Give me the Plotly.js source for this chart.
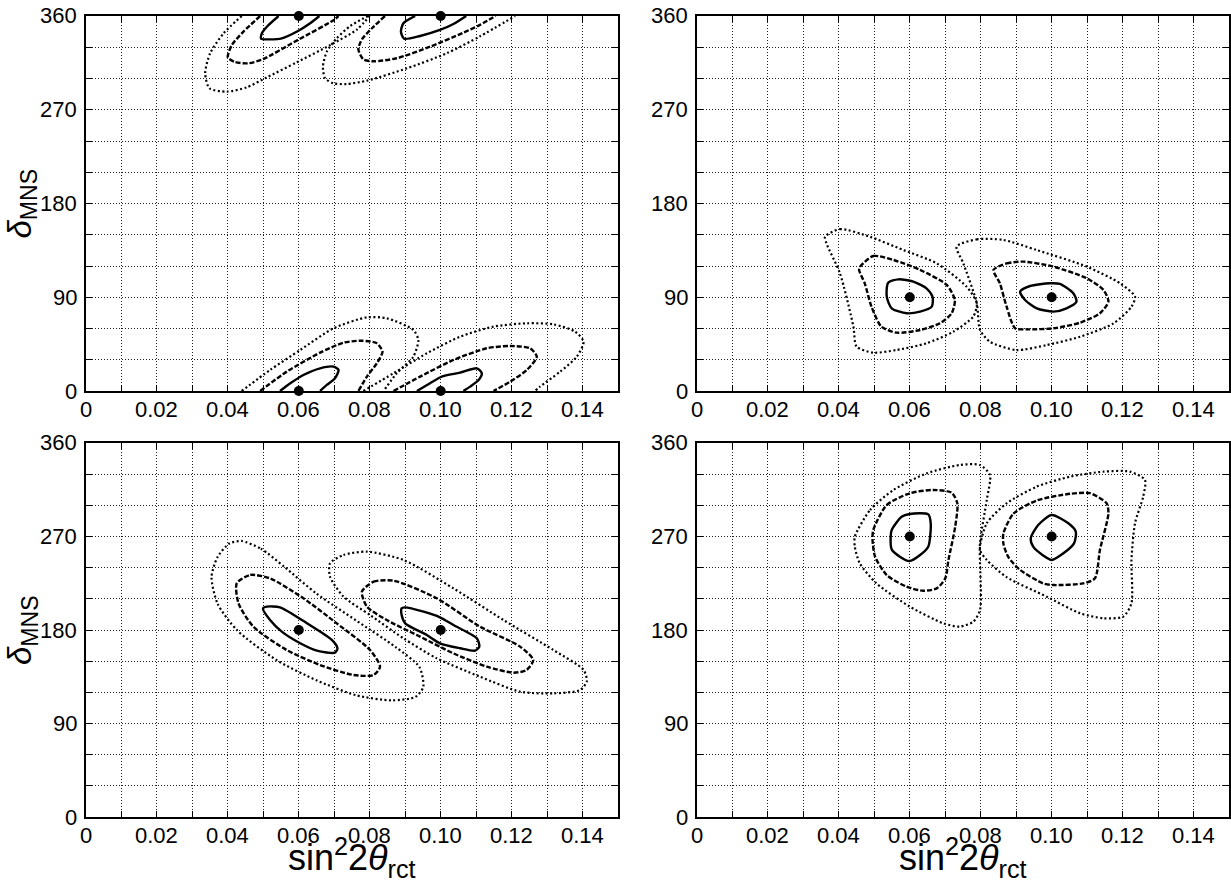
<!DOCTYPE html>
<html>
<head>
<meta charset="utf-8">
<script src="https://cdn.plot.ly/plotly-3.0.1.min.js"></script>
<style>html,body{margin:0;padding:0;background:#fff;}#chart{width:1231px;height:882px;}</style>
</head>
<body>
<div id="chart"></div>
<script>
// ---------------- data ----------------
const xTickVals = [0, 0.02, 0.04, 0.06, 0.08, 0.10, 0.12, 0.14];
const xTickText = ['0', '0.02', '0.04', '0.06', '0.08', '0.10', '0.12', '0.14'];
const xMinorVals = [0.01, 0.03, 0.05, 0.07, 0.09, 0.11, 0.13];
const yTickVals = [0, 90, 180, 270, 360];
const yTickText = ['0', '90', '180', '270', '360'];
const yMinorVals = [30, 60, 120, 150, 210, 240, 300, 330];

// best-fit points (sin^2 2theta, delta)
const bestX = [0.06, 0.10];
const bestY_TL_top = [360, 360];
const bestY_TL_bot = [0, 0];
const bestY_TR = [90, 90];
const bestY_BL = [180, 180];
const bestY_BR = [270, 270];

// top-left panel (true delta = 0/360): contours cut by the frame (open curves)
const tl_a06_solid = [[0.0543,360],[0.0512,350.4],[0.0496,343.4],[0.0494,338.2],[0.0519,337.6],[0.0552,338.6],[0.0599,345.9],[0.0630,352.5],[0.0658,360]];
const tl_a06_dash  = [[0.0491,360],[0.0444,345],[0.0411,332],[0.0400,320.3],[0.0420,315.8],[0.0458,314.6],[0.0498,318.4],[0.0600,337.5],[0.0698,356],[0.0712,360]];
const tl_a06_dot   = [[0.0439,360],[0.0388,343.4],[0.0350,324.2],[0.0336,305],[0.0348,290.6],[0.0397,287.4],[0.0453,291.5],[0.0510,301.1],[0.0594,315.5],[0.0688,332],[0.0764,347],[0.0800,360]];
const tl_a10_solid = [[0.0928,360],[0.0895,353],[0.0888,345],[0.0897,338.2],[0.0942,340.8],[0.0998,346.6],[0.1036,352.3],[0.1072,360]];
const tl_a10_dash  = [[0.0843,360],[0.0811,349.8],[0.0778,337.6],[0.0768,328],[0.0782,318.4],[0.0811,316.5],[0.0876,319.4],[0.0970,330.5],[0.1064,344],[0.1111,351.5],[0.1155,360]];
const tl_a10_dot   = [[0.0795,360],[0.0745,350.4],[0.0707,338.6],[0.0679,325.8],[0.0668,311.4],[0.0674,300.2],[0.0698,295.4],[0.0735,294.7],[0.0792,297.9],[0.0905,309.8],[0.1017,324.2],[0.1111,340.5],[0.1210,360]];
const tl_b06_solid = [[0.0547,0],[0.0576,7.4],[0.0613,15.4],[0.0660,21.8],[0.0698,23.4],[0.0712,20.2],[0.0702,12.2],[0.0679,5.8],[0.0660,0]];
const tl_b06_dash  = [[0.0491,0],[0.0566,18.6],[0.0660,36.8],[0.0726,46.4],[0.0778,48.3],[0.0820,45.8],[0.0836,37.8],[0.0820,26.6],[0.0792,13.8],[0.0768,0]];
const tl_b06_dot   = [[0.0439,0],[0.0519,20.2],[0.0604,39.4],[0.0698,60.2],[0.0792,70.7],[0.0848,69.8],[0.0923,58.6],[0.0937,48.9],[0.0923,33],[0.0876,17],[0.0839,0]];
const tl_b10_solid = [[0.0933,0],[0.0970,7.4],[0.1003,13.8],[0.1055,17.6],[0.1102,21.8],[0.1116,17],[0.1107,10.6],[0.1083,4.2],[0.1064,0]];
const tl_b10_dash  = [[0.0867,0],[0.0942,13.8],[0.1036,29.8],[0.1130,41],[0.1196,43.2],[0.1252,41],[0.1271,33],[0.1243,20.2],[0.1196,9],[0.1149,0]];
const tl_b10_dot   = [[0.0782,0],[0.0867,17],[0.0961,36.2],[0.1055,52.2],[0.1149,61.8],[0.1243,65],[0.1318,64],[0.1379,57],[0.1403,47.4],[0.1384,33],[0.1337,18.6],[0.1280,4.2],[0.1266,0]];

// top-right panel (true delta = 90): closed contours
const tr_06_solid = [[0.0539,104],[0.0568,107.2],[0.0610,105],[0.0647,98.6],[0.0664,90.6],[0.0662,81],[0.0629,76.2],[0.0591,74.6],[0.0549,79.4],[0.0535,90.6]];
const tr_06_dash  = [[0.0460,119.4],[0.0497,129.6],[0.0554,125.8],[0.0629,116.2],[0.0704,101.8],[0.0727,87.4],[0.0718,74.6],[0.0685,65],[0.0629,58.6],[0.0563,56],[0.0520,61.7],[0.0492,80.9],[0.0473,103.3],[0.0457,116.2]];
const tr_06_dot   = [[0.0361,148],[0.0403,155.4],[0.0488,148],[0.0582,135.3],[0.0676,122.5],[0.0760,100.2],[0.0789,84.2],[0.0779,71.4],[0.0723,57],[0.0647,45.8],[0.0563,39.4],[0.0497,36.8],[0.0450,42.6],[0.0441,61.7],[0.0403,113],[0.0365,141.7]];
const tr_10_solid = [[0.0911,95.4],[0.0939,100.8],[0.0995,103.4],[0.1023,102.8],[0.1061,93.8],[0.1070,85.8],[0.1042,79.4],[0.1005,76.2],[0.0958,79.4],[0.0925,87.4]];
const tr_10_dash  = [[0.0836,116.2],[0.0873,122.5],[0.0920,124.2],[0.1005,119.4],[0.1099,108.2],[0.1146,97],[0.1160,85.8],[0.1136,74.6],[0.1080,65.6],[0.1005,60.2],[0.0930,59.2],[0.0897,60.2],[0.0873,80.9],[0.0854,103.3]];
const tr_10_dot   = [[0.0732,138.6],[0.0789,145.6],[0.0864,145],[0.0958,135.3],[0.1099,119.4],[0.1193,103.3],[0.1235,90.6],[0.1225,80.9],[0.1174,64.9],[0.1080,52.1],[0.0986,44.1],[0.0901,39.3],[0.0826,47.3],[0.0798,58.6],[0.0789,84.2],[0.0751,122.5]];

// bottom-left panel (true delta = 180)
const bl_06_solid = [[0.0499,200.9],[0.0510,202.5],[0.0547,201.8],[0.0623,186.4],[0.0693,170.4],[0.0709,162.4],[0.0702,158.2],[0.0651,160.1],[0.0604,167.2],[0.0552,178.4],[0.0519,189.6]];
const bl_06_dash  = [[0.0425,224.9],[0.0463,233],[0.0519,229.7],[0.0613,210.5],[0.0707,186.4],[0.0801,160.7],[0.0829,144.7],[0.0811,136.7],[0.0754,136.7],[0.0660,146.3],[0.0566,160.7],[0.0472,183.2],[0.0430,205.7]];
const bl_06_dot   = [[0.0438,265.7],[0.0493,258.3],[0.0560,240.6],[0.0650,215],[0.0761,189.3],[0.0873,163.6],[0.0940,144.4],[0.0951,125.3],[0.0929,115.6],[0.0862,112.3],[0.0761,117.2],[0.0650,131.6],[0.0538,150.9],[0.0426,179.7],[0.0371,205.4],[0.0354,231],[0.0371,250.3],[0.0404,263.2]];
const bl_10_solid = [[0.0890,200.9],[0.0899,201.8],[0.0952,197.6],[0.0998,192.2],[0.1036,184.8],[0.1102,172],[0.1109,164],[0.1097,160.1],[0.1055,162.4],[0.0998,167.2],[0.0961,175.2],[0.0900,186.4],[0.0890,194.4]];
const bl_10_dash  = [[0.0778,216.9],[0.0811,226.5],[0.0867,227.5],[0.0989,210.5],[0.1111,183.2],[0.1224,164],[0.1261,151.1],[0.1242,141.5],[0.1205,138.9],[0.1130,144.7],[0.1036,157.5],[0.0942,173.6],[0.0848,189.6],[0.0792,202.5]];
const bl_10_dot   = [[0.0688,244.2],[0.0726,252.2],[0.0792,255.4],[0.0895,247.4],[0.1036,220.1],[0.1177,189.6],[0.1318,160.7],[0.1403,141.5],[0.1412,130.3],[0.1393,122.2],[0.1318,119],[0.1224,120.6],[0.1111,135.1],[0.0989,152.7],[0.0895,172],[0.0801,194.4],[0.0726,212.1],[0.0688,231.3]];

// bottom-right panel (true delta = 270)
const br_06_solid = [[0.0549,276.3],[0.0577,289.1],[0.0600,291.7],[0.0652,291.3],[0.0659,282.7],[0.0652,260.2],[0.0629,252.2],[0.0599,246.4],[0.0572,250.6],[0.0549,257.6],[0.0546,269.8]];
const br_06_dash  = [[0.0497,276.3],[0.0535,300.3],[0.0600,311.6],[0.0666,314.8],[0.0718,312.2],[0.0734,301.9],[0.0728,279.5],[0.0709,247.4],[0.0700,229.7],[0.0676,220.1],[0.0638,217.8],[0.0591,221.7],[0.0535,232.9],[0.0502,250.6],[0.0495,266.6]];
const br_06_dot   = [[0.0445,269.8],[0.0488,295.5],[0.0554,314.8],[0.0648,330.8],[0.0741,338.8],[0.0798,338.8],[0.0826,329.2],[0.0817,305.1],[0.0798,263.4],[0.0798,199.3],[0.0779,188],[0.0741,183.2],[0.0695,186.4],[0.0600,202.5],[0.0506,224.9],[0.0459,244.1],[0.0445,260.2]];
const br_10_solid = [[0.0941,268.2],[0.0962,281],[0.1000,290.7],[0.1047,282.7],[0.1068,274.7],[0.1063,263.4],[0.1033,253.8],[0.1000,247.4],[0.0976,251.8],[0.0948,260.2]];
const br_10_dash  = [[0.0864,273],[0.0892,291.9],[0.0958,304.7],[0.1052,311.1],[0.1108,311.7],[0.1155,301.9],[0.1160,292.2],[0.1136,256.9],[0.1122,229.7],[0.1089,224.9],[0.1005,223.3],[0.0976,224.9],[0.0911,237.8],[0.0878,250.1],[0.0864,262.9]];
const br_10_dot   = [[0.0798,257],[0.0817,282.7],[0.0873,301.9],[0.0958,318],[0.1052,327.6],[0.1146,332.4],[0.1221,332.4],[0.1263,324.4],[0.1258,308.4],[0.1235,282.7],[0.1225,247.4],[0.1225,205.8],[0.1202,192.9],[0.1146,191.3],[0.1080,196.1],[0.0986,212.1],[0.0873,230.9],[0.0817,247.4]];

// ---------------- styling ----------------
const STY = {
  solid: {color: '#000', width: 2.4, dash: 'solid'},
  dash:  {color: '#000', width: 2.4, dash: '5px,2px'},
  dot:   {color: '#000', width: 2.2, dash: '2px,2.5px'}
};
const traces = [];
function contour(pts, kind, ax, closed) {
  const p = closed ? pts.concat([pts[0]]) : pts;
  traces.push({
    type: 'scatter', mode: 'lines',
    x: p.map(d => d[0]), y: p.map(d => d[1]),
    xaxis: 'x' + ax, yaxis: 'y' + ax,
    line: Object.assign({shape: 'spline', smoothing: 0.7}, STY[kind]),
    hoverinfo: 'skip', cliponaxis: true
  });
}
function best(ys, ax) {
  traces.push({
    type: 'scatter', mode: 'markers', x: bestX, y: ys,
    xaxis: 'x' + ax, yaxis: 'y' + ax,
    marker: {color: '#000', size: 10}, cliponaxis: false, hoverinfo: 'skip'
  });
}
// panel 1: top-left
contour(tl_a06_dot, 'dot', '', false); contour(tl_a06_dash, 'dash', '', false); contour(tl_a06_solid, 'solid', '', false);
contour(tl_a10_dot, 'dot', '', false); contour(tl_a10_dash, 'dash', '', false); contour(tl_a10_solid, 'solid', '', false);
contour(tl_b06_dot, 'dot', '', false); contour(tl_b06_dash, 'dash', '', false); contour(tl_b06_solid, 'solid', '', false);
contour(tl_b10_dot, 'dot', '', false); contour(tl_b10_dash, 'dash', '', false); contour(tl_b10_solid, 'solid', '', false);
best(bestY_TL_top, ''); best(bestY_TL_bot, '');
// panel 2: top-right
contour(tr_06_dot, 'dot', '2', true); contour(tr_06_dash, 'dash', '2', true); contour(tr_06_solid, 'solid', '2', true);
contour(tr_10_dot, 'dot', '2', true); contour(tr_10_dash, 'dash', '2', true); contour(tr_10_solid, 'solid', '2', true);
best(bestY_TR, '2');
// panel 3: bottom-left
contour(bl_06_dot, 'dot', '3', true); contour(bl_06_dash, 'dash', '3', true); contour(bl_06_solid, 'solid', '3', true);
contour(bl_10_dot, 'dot', '3', true); contour(bl_10_dash, 'dash', '3', true); contour(bl_10_solid, 'solid', '3', true);
best(bestY_BL, '3');
// panel 4: bottom-right
contour(br_06_dot, 'dot', '4', true); contour(br_06_dash, 'dash', '4', true); contour(br_06_solid, 'solid', '4', true);
contour(br_10_dot, 'dot', '4', true); contour(br_10_dash, 'dash', '4', true); contour(br_10_solid, 'solid', '4', true);
best(bestY_BR, '4');

const W = 1231, H = 882;
const FONT = 'Liberation Sans, Arial, Helvetica, sans-serif';
const TICK_PX = 22;
const GRID = {color: '#222', dash: '1px,2px'};
function xa(domain, anchor) {
  return {
    domain: domain, anchor: anchor, range: [0, 0.15], fixedrange: true,
    tickmode: 'array', tickvals: xTickVals, ticktext: xTickText, showticklabels: false,
    ticks: 'inside', ticklen: 6, tickwidth: 1, tickcolor: '#000',
    showline: true, linewidth: 2, linecolor: '#000', mirror: 'allticks',
    showgrid: true, gridcolor: GRID.color, griddash: GRID.dash, gridwidth: 1,
    zeroline: false,
    minor: {tickmode: 'array', tickvals: xMinorVals, ticks: 'inside', ticklen: 6, tickcolor: '#000',
            showgrid: true, gridcolor: GRID.color, griddash: GRID.dash, gridwidth: 1}
  };
}
function ya(domain, anchor) {
  return {
    domain: domain, anchor: anchor, range: [0, 360], fixedrange: true,
    tickmode: 'array', tickvals: yTickVals, ticktext: yTickText, showticklabels: false,
    ticks: 'inside', ticklen: 6, tickwidth: 1, tickcolor: '#000',
    showline: true, linewidth: 2, linecolor: '#000', mirror: 'allticks',
    showgrid: true, gridcolor: GRID.color, griddash: GRID.dash, gridwidth: 1,
    zeroline: false,
    minor: {tickmode: 'array', tickvals: yMinorVals, ticks: 'inside', ticklen: 6, tickcolor: '#000',
            showgrid: true, gridcolor: GRID.color, griddash: GRID.dash, gridwidth: 1}
  };
}
const LXpx = [86, 618], RXpx = [697, 1229], TYpx = [16, 391], BYpx = [443, 817];
const LX = [LXpx[0] / W, LXpx[1] / W], RX = [RXpx[0] / W, RXpx[1] / W];
const TY = [(H - TYpx[1]) / H, (H - TYpx[0]) / H], BY = [(H - BYpx[1]) / H, (H - BYpx[0]) / H];

const tickFont = {family: FONT, size: TICK_PX, color: '#000'};
const annotations = [];
// tick labels as text placed through the axes' own scales
const panels = [
  {ax: '', xpx: LXpx, ypx: TYpx}, {ax: '2', xpx: RXpx, ypx: TYpx},
  {ax: '3', xpx: LXpx, ypx: BYpx}, {ax: '4', xpx: RXpx, ypx: BYpx}
];
panels.forEach(p => {
  xTickVals.forEach((v, i) => annotations.push({
    text: xTickText[i], xref: 'x' + p.ax, yref: 'paper', x: v, y: (H - (p.ypx[1] + 18)) / H,
    xanchor: 'center', yanchor: 'middle', showarrow: false, font: tickFont
  }));
  yTickVals.forEach((v, i) => annotations.push({
    text: yTickText[i], xref: 'paper', yref: 'y' + p.ax, x: (p.xpx[0] - 7) / W, y: v,
    xanchor: 'right', yanchor: 'middle', showarrow: false, font: tickFont
  }));
});

const titleFont = {family: FONT, size: 33, color: '#000'};
const yTitle = '<i>δ</i><sub>MNS</sub>';
const xTitle = 'sin<sup>2</sup>2<i>θ</i><sub>rct</sub>';
const xTitleFont = {family: FONT, size: 36, color: '#000'};
annotations.push(
  {text: yTitle, xref: 'paper', yref: 'paper', x: 22 / W, y: (TY[0] + TY[1]) / 2, textangle: -90,
   xanchor: 'center', yanchor: 'middle', showarrow: false, font: titleFont},
  {text: yTitle, xref: 'paper', yref: 'paper', x: 22 / W, y: (BY[0] + BY[1]) / 2, textangle: -90,
   xanchor: 'center', yanchor: 'middle', showarrow: false, font: titleFont},
  {text: xTitle, xref: 'paper', yref: 'paper', x: (LX[0] + LX[1]) / 2, y: (H - 857) / H,
   xanchor: 'center', yanchor: 'middle', showarrow: false, font: xTitleFont},
  {text: xTitle, xref: 'paper', yref: 'paper', x: (RX[0] + RX[1]) / 2, y: (H - 857) / H,
   xanchor: 'center', yanchor: 'middle', showarrow: false, font: xTitleFont}
);

const layout = {
  width: W, height: H, margin: {l: 0, r: 0, t: 0, b: 0},
  font: {family: FONT, size: TICK_PX, color: '#000'},
  paper_bgcolor: '#fff', plot_bgcolor: '#fff', showlegend: false,
  xaxis: xa(LX, 'y'), yaxis: ya(TY, 'x'),
  xaxis2: xa(RX, 'y2'), yaxis2: ya(TY, 'x2'),
  xaxis3: xa(LX, 'y3'), yaxis3: ya(BY, 'x3'),
  xaxis4: xa(RX, 'y4'), yaxis4: ya(BY, 'x4'),
  annotations: annotations
};
Plotly.newPlot('chart', traces, layout, {staticPlot: true, displayModeBar: false});
</script>
</body>
</html>
